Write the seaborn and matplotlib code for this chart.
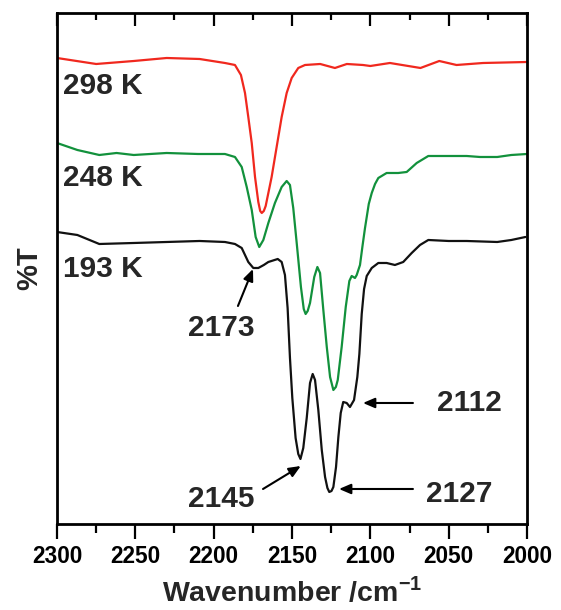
import matplotlib
matplotlib.use('Agg')
import matplotlib.pyplot as plt
import seaborn as sns
import numpy as np
import pandas as pd
from matplotlib.ticker import MultipleLocator

# spectra (arbitrary %T units, offset)
wn_298 = [2300, 2275, 2251, 2230, 2209, 2192.8, 2186.4, 2182.6, 2180, 2177.9, 2175.7,
          2173.6, 2171.5, 2170.3, 2169.3, 2168, 2166.8, 2163, 2159.8, 2156.6, 2153.4,
          2150.2, 2146, 2141.7, 2132, 2122.6, 2115, 2104.7, 2100, 2087.5, 2068, 2056,
          2045, 2028, 2000]
t_298 = [466, 460, 463, 466, 465, 461, 459, 449, 431, 407, 381,
         347, 322, 313, 311, 313, 318, 347, 377, 407, 431,
         446, 456, 459, 460, 456, 460, 459, 458, 461, 456, 463,
         459, 461, 462]

wn_248 = [2300, 2287, 2273, 2262, 2251, 2230, 2210, 2192.8, 2186.4, 2182.1, 2178.9,
          2175.7, 2173.2, 2170.9, 2168.3, 2165.1, 2160.9, 2156.6, 2153.4, 2151.3, 2149.2,
          2147, 2144.3, 2142.5, 2141.3, 2140, 2138.5, 2135.8, 2133.8, 2132.1, 2130,
          2127.8, 2125.7, 2123.6, 2122, 2120.8, 2118.3, 2115.7, 2113.4, 2111.9, 2109.8,
          2108.7, 2106.6, 2105, 2103.4, 2101, 2099.1, 2097, 2094.9, 2089.6, 2082.2,
          2076.8, 2070.4, 2063, 2050, 2038.5, 2030, 2019, 2010, 2000]
t_248 = [381, 374, 369, 371, 369, 371, 370, 370, 367, 357, 337,
         314, 287, 277, 284, 301, 321, 337, 343, 339, 316,
         281, 237, 215, 210, 213, 221, 247, 257, 251, 214,
         177, 147, 134, 137, 144, 177, 217, 243, 248, 246,
         249, 259, 278, 296, 320, 331, 340, 346, 351, 351,
         352, 361, 368, 368, 368, 367, 367, 369, 370]

wn_193 = [2300, 2287, 2273, 2251, 2230, 2209, 2192.8, 2186.4, 2182.1, 2177.9, 2174.7,
          2171.5, 2168, 2165.1, 2159.1, 2156.6, 2154.5, 2152.8, 2151.3, 2149.8, 2147.7,
          2146, 2144.6, 2142.8, 2140.6, 2138.5, 2136.8, 2135.3, 2133.2, 2131, 2128.9,
          2127.4, 2126.2, 2124.8, 2123.6, 2121.9, 2120.4, 2118.9, 2117.3, 2115.1, 2113,
          2110.4, 2108.3, 2107, 2105.5, 2104, 2102.3, 2099.1, 2094.9, 2089.6, 2084.3,
          2079, 2073.6, 2068.3, 2063, 2050, 2038.5, 2019, 2010, 2001]
t_193 = [292, 289, 280, 281, 282, 283, 282, 280, 276, 262, 256,
         256, 259, 262, 265, 262, 249, 216, 166, 126, 86,
         70, 65, 76, 106, 141, 150, 144, 114, 74, 47,
         36, 32, 33, 37, 57, 87, 111, 122, 121, 117,
         124, 147, 170, 210, 235, 248, 256, 261, 261, 259,
         262, 271, 279, 284, 283, 283, 282, 284, 287]

temps = ['298 K', '248 K', '193 K']
colors = {'298 K': '#f0281e', '248 K': '#12913c', '193 K': '#111111'}
label_y = {'298 K': 438, '248 K': 346, '193 K': 255}

# peak labels: text, text position, arrow tail, arrow head
peaks = [
    ('2173', (2195.3, 196), (2184.5, 218), (2174.9, 255)),
    ('2145', (2195.3, 25), (2168.5, 35), (2144.4, 58)),
    ('2127', (2043.4, 30), (2072.8, 35), (2120.0, 35)),
    ('2112', (2037.0, 121), (2072.8, 121), (2104.7, 121)),
]

df = pd.concat([
    pd.DataFrame({'wn': wn_298, 'T': t_298, 'temp': '298 K'}),
    pd.DataFrame({'wn': wn_248, 'T': t_248, 'temp': '248 K'}),
    pd.DataFrame({'wn': wn_193, 'T': t_193, 'temp': '193 K'}),
])

sns.set_style('ticks')
plt.rcParams['font.family'] = ['Liberation Sans', 'DejaVu Sans']
plt.rcParams['font.weight'] = 'bold'
plt.rcParams['mathtext.fontset'] = 'custom'
plt.rcParams['mathtext.bf'] = 'Liberation Sans:bold'
plt.rcParams['mathtext.rm'] = 'Liberation Sans:bold'

fig = plt.figure(figsize=(5.61, 6.10), dpi=100)
ax = fig.add_axes([0.1016, 0.141, 0.8378, 0.8377])

sns.lineplot(data=df, x='wn', y='T', hue='temp', palette=colors, estimator=None,
             sort=False, linewidth=1.6, legend=False, ax=ax)

xmin, xmax = 2000, 2300
ax.set_xlim(xmax, xmin)
ax.set_ylim(0, 511)
ax.set_yticks([])
ax.xaxis.set_major_locator(MultipleLocator(50))
ax.xaxis.set_minor_locator(MultipleLocator(25))
ax.tick_params(axis='x', which='major', direction='out', length=11, width=1.6,
               labelsize=16.3, pad=4, colors='black', top=False)
ax.tick_params(axis='x', which='minor', direction='out', length=6.5, width=1.6,
               color='black', top=False)
for lab in ax.get_xticklabels():
    lab.set_fontweight('bold')
for s in ax.spines.values():
    s.set_linewidth(2)
    s.set_color('black')

# inward ticks along the top edge, placed by the same locators
major_pos = [v for v in MultipleLocator(50).tick_values(xmin, xmax) if xmin <= v <= xmax]
minor_pos = [v for v in MultipleLocator(25).tick_values(xmin, xmax)
             if xmin <= v <= xmax and not np.isclose(v % 50, 0)]
trans = ax.get_xaxis_transform()
ax.vlines(major_pos, 1 - 0.026, 1, transform=trans, colors='black', lw=1.6, clip_on=False)
ax.vlines(minor_pos, 1 - 0.014, 1, transform=trans, colors='black', lw=1.6, clip_on=False)

ax.set_xlabel(r'Wavenumber /cm$^{\mathbf{-1}}$', fontsize=20.5, fontweight='bold', labelpad=6)
ax.set_ylabel('%T', fontsize=21, fontweight='bold', labelpad=10)

for t in temps:
    ax.text(2296.2, label_y[t], t, fontsize=21.5, fontweight='bold', ha='left', va='center')

for txt, pos, tail, head in peaks:
    ax.text(pos[0], pos[1], txt, fontsize=21.5, fontweight='bold', ha='center', va='center')
    ax.annotate('', xy=head, xytext=tail,
                arrowprops=dict(arrowstyle='-|>,head_length=0.7,head_width=0.3',
                                color='black', lw=1.5, shrinkA=0, shrinkB=0))

fig.savefig('out.png', dpi=100)
